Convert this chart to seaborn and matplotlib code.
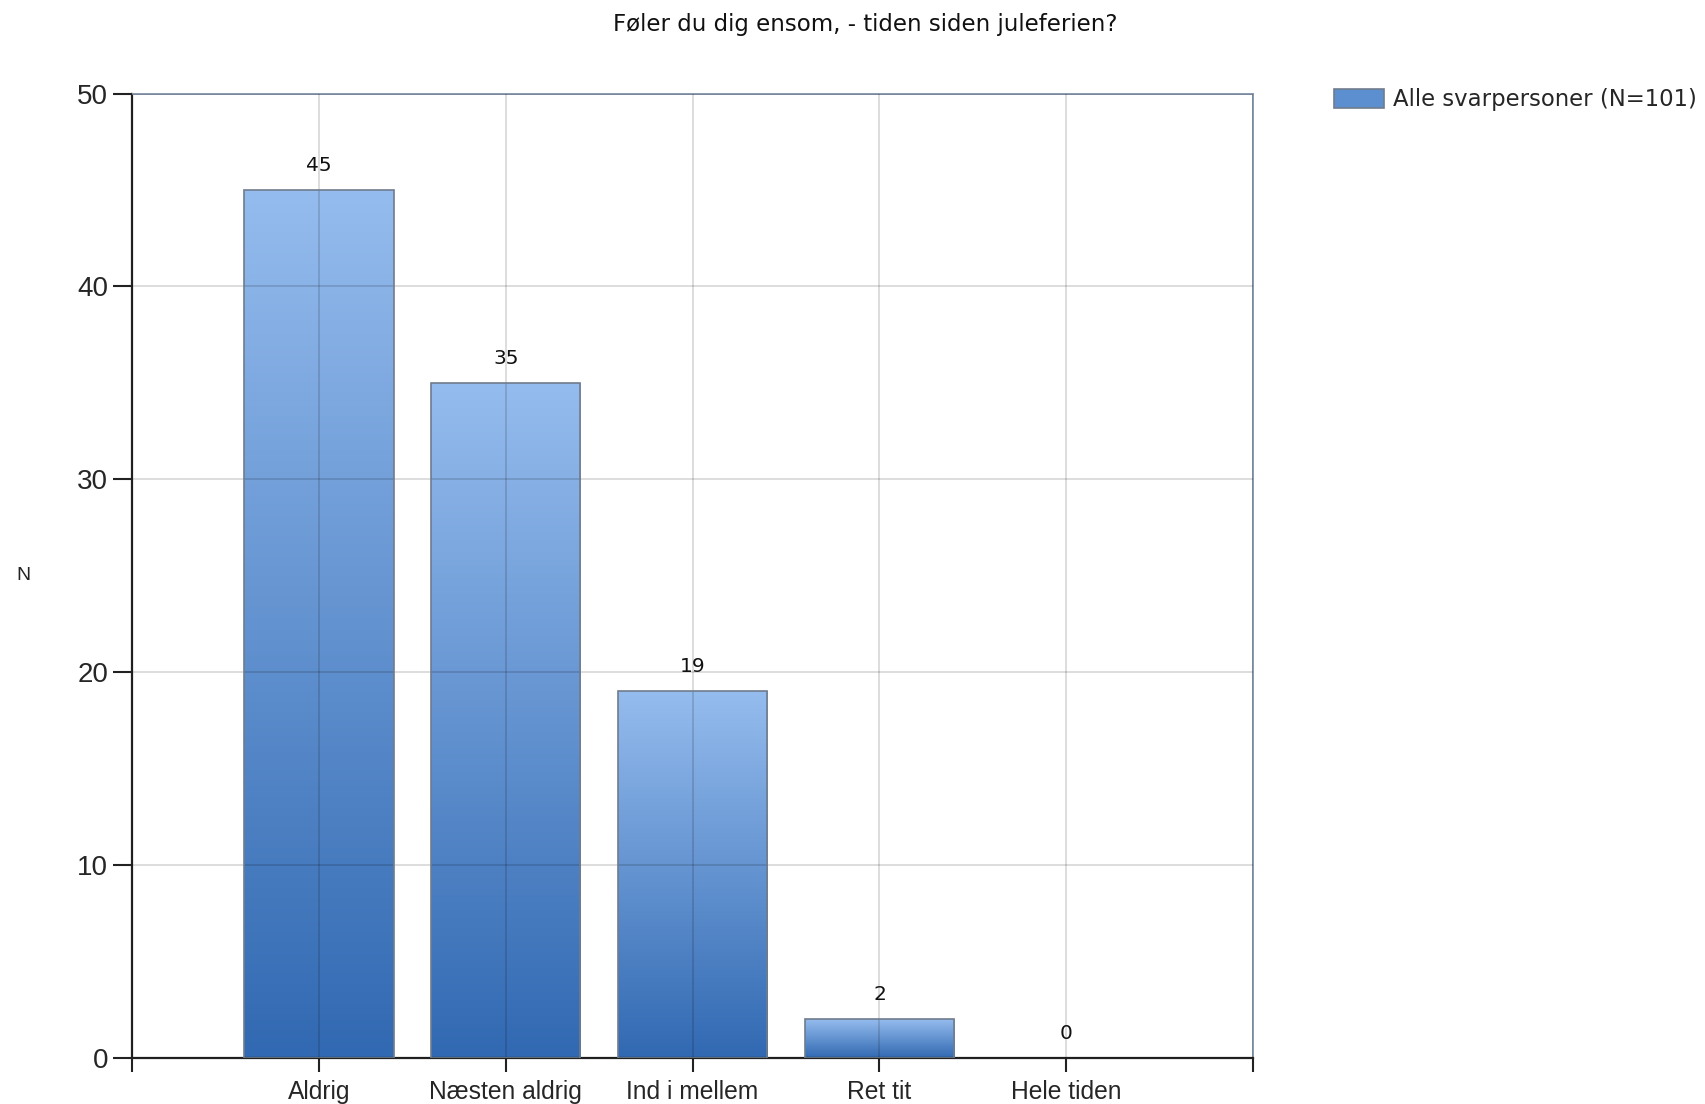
import numpy as np
import pandas as pd
import seaborn as sns
import matplotlib as mpl
import matplotlib.pyplot as plt
from matplotlib.colors import LinearSegmentedColormap
from matplotlib.patches import Patch
mpl.use("Agg")

# data
categories = ['Aldrig', 'Næsten aldrig', 'Ind i mellem', 'Ret tit', 'Hele tiden']
counts = [45, 35, 19, 2, 0]
series_name = 'Alle svarpersoner (N=101)'
title = 'Føler du dig ensom, - tiden siden juleferien?'
y_ticks = [0, 10, 20, 30, 40, 50]

df = pd.DataFrame({'svar': categories, 'N': counts})

sns.set_style('white')
plt.rcParams['font.family'] = ['DejaVu Sans']

fig = plt.figure(figsize=(17.05, 11.04), dpi=100)
ax = fig.add_axes([0.0774, 0.0417, 0.735 - 0.0774, 0.9153 - 0.0417])

sns.barplot(data=df, x='svar', y='N', order=categories, width=0.8,
            color='#5b8fd0', ax=ax, zorder=2)

# vertical gradient on each bar, light at top, dark at bottom
grad_cmap = LinearSegmentedColormap.from_list('bar', ['#95bcee', '#3169b2'])
gradient = np.linspace(0, 1, 256).reshape(-1, 1)
for p in ax.patches:
    x, y = p.get_x(), p.get_y()
    w, h = p.get_width(), p.get_height()
    if h <= 0:
        p.set_visible(False)
        continue
    im = ax.imshow(gradient, cmap=grad_cmap, aspect='auto',
                   extent=[x, x + w, y, y + h], zorder=2)
    im.set_clip_path(p)
    p.set_facecolor('none')
    p.set_edgecolor('#6f7c8c')
    p.set_linewidth(1.2)
    p.set_zorder(3)

ax.bar_label(ax.containers[0], labels=[str(v) for v in counts],
             padding=11, fontsize=14.5, family='DejaVu Sans', color='#111111')

ax.set_xlim(-1, len(categories))
ax.set_ylim(0, 50)
ax.set_xticks(range(-1, len(categories) + 1))
ax.set_xticklabels([''] + categories + [''], family='Liberation Sans', fontsize=17.7)
ax.set_yticks(y_ticks)
ax.set_yticklabels([str(t) for t in y_ticks], family='Liberation Sans', fontsize=20)
ax.tick_params(axis='x', length=10, width=1.5, color='#222222', pad=6, direction='out', bottom=True)
ax.tick_params(axis='y', length=14, width=1.5, color='#222222', pad=3, direction='out', left=True)

ax.grid(True, color='black', alpha=0.16, linewidth=1.2, zorder=4)
ax.set_axisbelow(False)
for gl in ax.get_xgridlines() + ax.get_ygridlines():
    gl.set_zorder(4)

ax.spines['left'].set_color('#222222')
ax.spines['bottom'].set_color('#222222')
ax.spines['left'].set_linewidth(1.6)
ax.spines['bottom'].set_linewidth(1.6)
for s in ['top', 'right']:
    ax.spines[s].set_visible(True)
    ax.spines[s].set_color('#8b9ab0')
    ax.spines[s].set_linewidth(1.4)

ax.set_xlabel('')
ax.set_ylabel('')
fig.text(0.0135, 1 - 575 / 1104, 'N', ha='center', va='center',
         family='Liberation Sans', fontsize=14, color='#222222')
fig.text(865 / 1705, 1 - 25 / 1104, title, ha='center', va='center',
         fontsize=16.5, color='#111111')

handle = Patch(facecolor='#5b8fd0', edgecolor='#6f7c8c', linewidth=1.2)
fig.legend([handle], [series_name], loc='upper left',
           bbox_to_anchor=(1334 / 1705, 1 - 88 / 1104), frameon=False,
           fontsize=16.4, handlelength=2.2, handleheight=0.9, handletextpad=0.4,
           borderaxespad=0, borderpad=0)

fig.savefig('out.png', dpi=100)
